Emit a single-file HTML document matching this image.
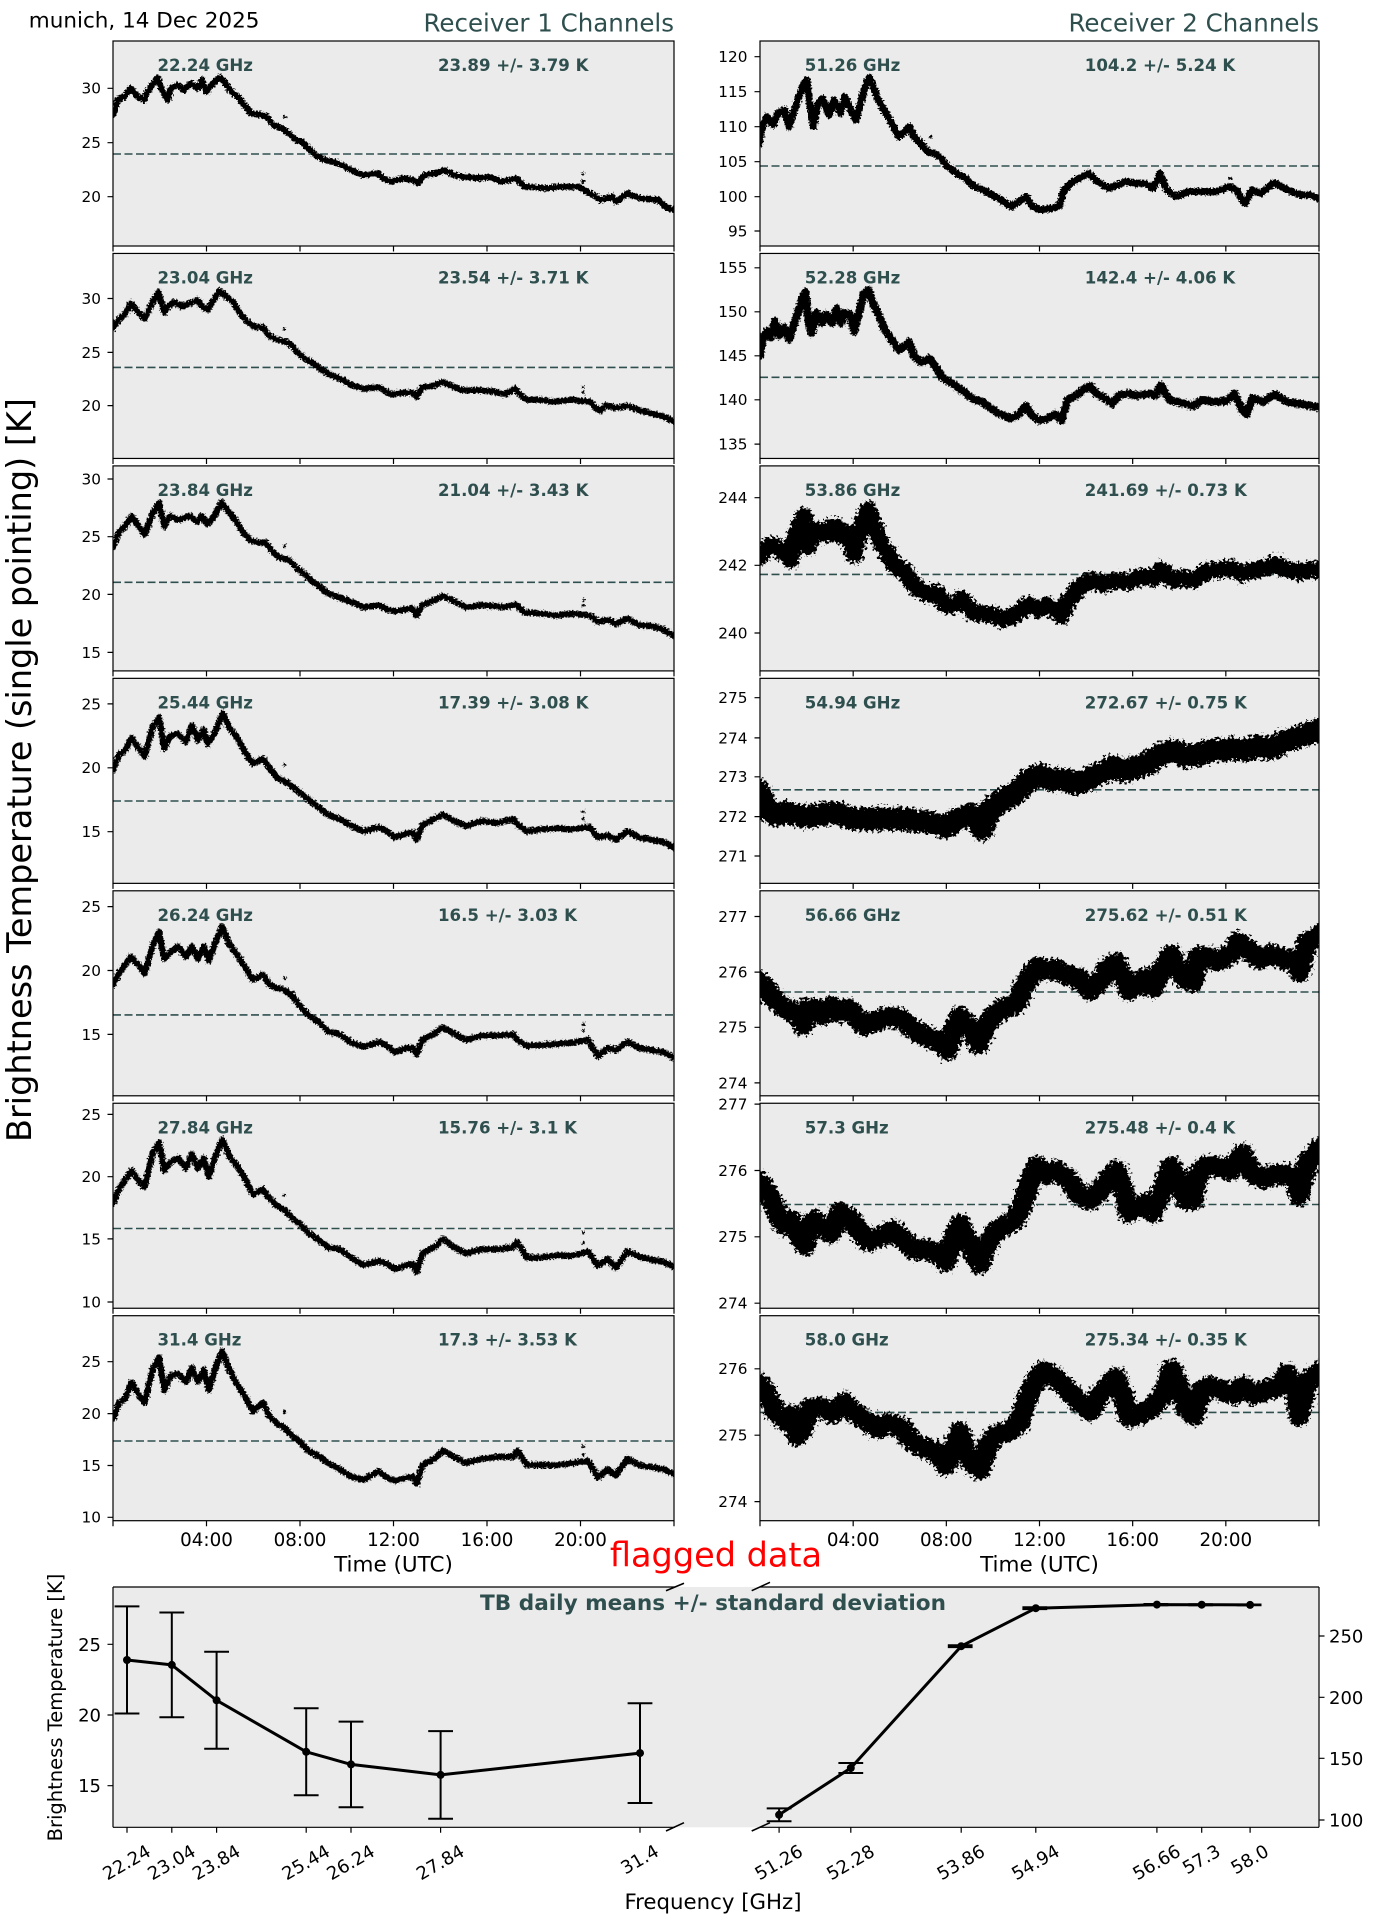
<!DOCTYPE html>
<html><head><meta charset="utf-8"><style>
html,body{margin:0;padding:0;background:#fff;}
svg{display:block;font-family:"DejaVu Sans","Liberation Sans",sans-serif;}
</style></head><body>
<svg width="1384" height="1927" viewBox="0 0 1384 1927" xmlns="http://www.w3.org/2000/svg">
<defs>
<clipPath id="cL"><rect x="113" y="0" width="561" height="1530"/></clipPath>
<clipPath id="cR"><rect x="760" y="0" width="559" height="1530"/></clipPath>
<filter id="nz" x="-2%" y="-5%" width="104%" height="110%"><feTurbulence type="fractalNoise" baseFrequency="0.6" numOctaves="1" seed="4" result="t"/><feDisplacementMap in="SourceGraphic" in2="t" scale="6" xChannelSelector="R" yChannelSelector="G"/></filter>
<filter id="nz2" x="-2%" y="-5%" width="104%" height="110%"><feTurbulence type="fractalNoise" baseFrequency="0.35" numOctaves="2" seed="7" result="t"/><feDisplacementMap in="SourceGraphic" in2="t" scale="13" xChannelSelector="R" yChannelSelector="G"/></filter>
<g id="xtL"><path d="M113,0v5.5M206.5,0v5.5M300,0v5.5M393.5,0v5.5M487,0v5.5M580.5,0v5.5M674,0v5.5" stroke="#000" stroke-width="1.2"/></g>
<g id="xtR"><path d="M760,0v5.5M853.17,0v5.5M946.33,0v5.5M1039.5,0v5.5M1132.67,0v5.5M1225.83,0v5.5M1319,0v5.5" stroke="#000" stroke-width="1.2"/></g>
</defs>

<!-- titles -->
<text x="28.8" y="27.3" font-size="21.5" fill="#000">munich, 14 Dec 2025</text>
<text x="674" y="31.5" font-size="24.5" fill="#2F4F4F" text-anchor="end">Receiver 1 Channels</text>
<text x="1319" y="31.5" font-size="24.5" fill="#2F4F4F" text-anchor="end">Receiver 2 Channels</text>
<text transform="translate(31,770) rotate(-90)" font-size="33.5" text-anchor="middle" fill="#000">Brightness Temperature (single pointing) [K]</text>

<!-- panel backgrounds -->
<g fill="#ebebeb" stroke="none">
<rect x="113" y="41" width="561" height="205"/><rect x="113" y="253.45" width="561" height="205"/><rect x="113" y="465.9" width="561" height="205"/><rect x="113" y="678.35" width="561" height="205"/><rect x="113" y="890.8" width="561" height="205"/><rect x="113" y="1103.25" width="561" height="205"/><rect x="113" y="1315.7" width="561" height="205"/>
<rect x="760" y="41" width="559" height="205"/><rect x="760" y="253.45" width="559" height="205"/><rect x="760" y="465.9" width="559" height="205"/><rect x="760" y="678.35" width="559" height="205"/><rect x="760" y="890.8" width="559" height="205"/><rect x="760" y="1103.25" width="559" height="205"/><rect x="760" y="1315.7" width="559" height="205"/>
</g>

<!-- mean dashed lines -->
<g stroke="#2F4F4F" stroke-width="1.6" stroke-dasharray="8,3.5" fill="none">
<path d="M113,154H674M113,367.4H674M113,582.3H674M113,801H674M113,1014.9H674M113,1228.5H674M113,1441H674"/>
<path d="M760,166H1319M760,377.3H1319M760,574.4H1319M760,789.8H1319M760,992H1319M760,1204.5H1319M760,1412.4H1319"/>
</g>

<!-- LEFT COLUMN CURVES -->
<g clip-path="url(#cL)"><g filter="url(#nz)">
<g transform="translate(-0.536,0) scale(0.44524,0.33333)" fill="none" stroke="#000" stroke-linejoin="round" stroke-linecap="round">
<polyline vector-effect="non-scaling-stroke" stroke-width="6.2" points="252,345 257,340 265,300 280,290 295,265 310,290 325,300 330,280 340,260 355,232 365,270 378,300 385,265 400,255 415,270 430,250 445,265 455,240 465,275 480,250 495,232 505,245 520,275 535,290 550,315 565,340 590,345 600,350 615,375 635,385 650,400 665,420 680,425 690,440 710,465 730,480 760,490 790,510 815,525 850,520 860,535 880,545 905,535 930,540 940,550 955,525 980,520 1000,510 1020,525 1040,530 1080,535 1100,530 1130,545 1160,535 1180,560 1230,565 1260,560 1300,560 1320,575 1340,590 1350,600 1375,590 1385,605 1410,580 1440,595 1480,600 1495,620 1520,633"/>
<g fill="#000" stroke="none"><ellipse cx="640" cy="352" rx="4" ry="5"/><ellipse cx="1310" cy="520" rx="4" ry="5"/><ellipse cx="1310" cy="545" rx="4" ry="5"/></g>
</g>
<g transform="translate(59.78,240) scale(0.39424,0.41494)" fill="none" stroke="#000" stroke-linejoin="round" stroke-linecap="round">
<polyline vector-effect="non-scaling-stroke" stroke-width="6.2" points="130,214 135,212 150,190 165,180 180,152 195,170 215,190 230,160 250,125 265,175 275,160 290,150 310,160 330,152 350,145 360,160 375,168 390,145 405,122 420,135 440,150 460,180 480,200 495,210 515,210 530,230 550,240 570,245 585,250 600,268 620,285 640,295 660,310 680,322 700,330 720,338 740,350 770,358 810,355 840,372 870,368 895,368 905,378 920,355 950,350 970,342 990,350 1020,362 1060,362 1100,365 1130,372 1155,358 1170,375 1185,385 1220,385 1250,390 1300,385 1345,390 1360,405 1370,412 1385,398 1410,405 1440,400 1470,410 1500,418 1530,425 1565,440"/>
<polyline vector-effect="non-scaling-stroke" stroke-width="6.2" points="130,742 135,740 150,705 165,690 182,665 200,690 215,710 235,660 252,632 265,690 280,665 300,675 330,665 350,680 360,665 375,685 392,665 410,632 425,650 445,675 465,705 485,725 510,730 520,728 535,745 555,765 580,770 600,790 620,805 640,822 660,835 680,852 710,862 740,872 770,885 810,880 830,890 850,895 880,890 895,888 905,905 920,880 950,868 972,858 1000,870 1030,885 1070,880 1100,882 1130,885 1155,878 1180,898 1220,900 1260,905 1300,900 1345,905 1365,920 1390,915 1410,925 1440,912 1470,928 1500,930 1530,938 1565,958"/>
<polyline vector-effect="non-scaling-stroke" stroke-width="6.2" points="130,1280 135,1278 150,1240 165,1230 182,1200 200,1225 215,1245 235,1175 252,1150 265,1225 280,1195 300,1190 320,1210 335,1170 350,1205 365,1180 375,1215 392,1190 413,1140 430,1175 450,1200 470,1235 490,1262 515,1250 530,1270 550,1295 580,1310 600,1325 620,1340 640,1355 660,1370 680,1385 710,1395 740,1412 770,1425 810,1415 830,1425 850,1440 880,1430 895,1428 905,1445 920,1410 950,1395 972,1385 1000,1400 1030,1412 1070,1400 1110,1405 1150,1395 1160,1408 1185,1425 1220,1420 1260,1418 1300,1420 1345,1415 1365,1440 1390,1435 1410,1445 1440,1425 1470,1440 1500,1445 1530,1450 1565,1468"/>
<g fill="#000" stroke="none"><ellipse cx="570" cy="215" rx="4" ry="4"/><ellipse cx="1328" cy="355" rx="4" ry="4"/><ellipse cx="1328" cy="367" rx="4" ry="4"/><ellipse cx="570" cy="737" rx="4" ry="4"/><ellipse cx="1328" cy="867" rx="4" ry="4"/><ellipse cx="1328" cy="880" rx="4" ry="4"/><ellipse cx="570" cy="1265" rx="4" ry="4"/><ellipse cx="1328" cy="1378" rx="4" ry="4"/><ellipse cx="1328" cy="1395" rx="4" ry="4"/></g>
</g>
<g transform="translate(59.78,880) scale(0.39424,0.41494)" fill="none" stroke="#000" stroke-linejoin="round" stroke-linecap="round">
<polyline vector-effect="non-scaling-stroke" stroke-width="6.2" points="130,255 135,252 150,225 165,205 180,185 200,205 215,225 235,160 252,125 265,190 280,175 300,160 320,185 335,160 350,190 365,160 378,195 395,150 412,112 430,155 450,180 470,210 490,240 515,228 530,250 550,260 570,265 590,280 610,305 630,325 660,345 680,365 710,372 740,392 770,402 810,390 830,400 850,415 880,405 895,405 905,420 920,385 950,370 972,355 1000,370 1030,385 1070,375 1110,375 1150,372 1160,385 1185,400 1220,398 1260,395 1300,392 1340,385 1365,425 1390,405 1410,410 1440,390 1470,405 1500,410 1530,415 1565,432"/>
<polyline vector-effect="non-scaling-stroke" stroke-width="6.2" points="130,780 135,778 150,745 165,725 182,700 200,725 215,740 235,660 252,632 265,700 280,680 300,670 320,695 335,660 350,695 365,670 378,715 395,665 412,625 430,665 450,690 470,720 490,758 515,745 530,765 550,785 570,795 590,815 610,830 630,850 660,870 680,885 710,890 740,910 770,928 810,918 830,925 850,938 880,928 895,925 905,945 920,900 950,885 972,865 1000,885 1030,900 1070,890 1110,890 1150,885 1160,872 1185,910 1220,910 1260,905 1300,905 1340,895 1365,930 1390,912 1410,935 1440,895 1470,908 1500,915 1530,920 1565,936"/>
<polyline vector-effect="non-scaling-stroke" stroke-width="6.2" points="130,1300 135,1298 150,1260 165,1250 182,1210 200,1240 215,1260 235,1180 252,1150 265,1230 280,1195 300,1190 320,1210 335,1175 350,1210 365,1180 378,1230 395,1175 412,1135 430,1180 450,1215 470,1245 490,1280 515,1260 530,1290 550,1310 570,1320 590,1340 610,1355 630,1375 660,1390 680,1405 710,1420 740,1438 770,1445 810,1425 830,1440 850,1448 880,1440 895,1438 905,1455 920,1410 950,1395 972,1375 1000,1390 1030,1405 1070,1395 1110,1390 1150,1390 1160,1375 1185,1410 1220,1410 1260,1410 1300,1405 1340,1400 1365,1440 1390,1420 1410,1435 1440,1395 1470,1410 1500,1415 1530,1420 1565,1434"/>
<g fill="#000" stroke="none"><ellipse cx="570" cy="237" rx="4" ry="4"/><ellipse cx="592" cy="270" rx="4" ry="4"/><ellipse cx="1328" cy="348" rx="4" ry="4"/><ellipse cx="1328" cy="362" rx="4" ry="4"/><ellipse cx="570" cy="760" rx="4" ry="4"/><ellipse cx="1328" cy="850" rx="4" ry="4"/><ellipse cx="1328" cy="875" rx="4" ry="4"/><ellipse cx="570" cy="1282" rx="4" ry="4"/><ellipse cx="1328" cy="1365" rx="4" ry="4"/><ellipse cx="1328" cy="1385" rx="4" ry="4"/></g>
</g>
</g></g>

<!-- RIGHT COLUMN CURVES -->
<g clip-path="url(#cR)"><g filter="url(#nz)">
<g transform="translate(679.36,0) scale(0.4472,0.33333)" fill="none" stroke="#000" stroke-linejoin="round" stroke-linecap="round">
<polyline vector-effect="non-scaling-stroke" stroke-width="7.2" points="172,440 178,435 185,385 195,350 210,375 220,340 235,330 245,380 255,340 265,300 275,260 285,240 290,300 300,380 310,310 320,295 335,345 345,300 360,340 370,290 385,335 395,360 405,310 415,260 425,232 435,265 445,300 460,335 475,370 490,410 505,395 515,380 525,410 540,430 555,455 570,460 585,475 600,500 620,520 640,535 660,560 680,570 700,585 720,600 740,620 760,605 775,590 790,620 810,630 830,625 850,618 860,570 880,545 900,530 915,520 935,545 960,565 980,555 1000,545 1020,550 1040,550 1060,565 1075,520 1090,570 1110,590 1140,575 1170,575 1200,575 1230,560 1245,570 1265,610 1280,570 1300,580 1330,548 1360,570 1390,585 1410,585 1440,600"/>
<g fill="#000" stroke="none"><ellipse cx="562" cy="410" rx="4" ry="5"/><ellipse cx="1232" cy="535" rx="4" ry="5"/></g>
</g>
<g transform="translate(689.54,240) scale(0.40654,0.41494)" fill="none" stroke="#000" stroke-linejoin="round" stroke-linecap="round">
<polyline vector-effect="non-scaling-stroke" stroke-width="8" points="165,285 172,280 180,240 190,220 200,235 210,195 220,230 232,210 245,240 258,200 268,170 278,140 285,125 292,195 300,225 312,175 325,200 335,180 350,200 362,165 372,200 382,175 395,180 405,220 415,180 428,130 440,120 450,150 465,180 480,215 500,245 515,265 530,255 540,245 552,280 570,295 590,285 605,305 620,330 635,340 645,345 660,355 680,370 700,385 720,390 740,405 760,418 790,430 810,420 828,400 840,420 860,435 880,430 900,420 915,435 930,385 950,375 970,360 985,352 1000,370 1020,380 1040,395 1055,375 1080,370 1100,375 1130,370 1145,375 1160,350 1180,385 1220,395 1240,400 1260,385 1290,390 1320,388 1340,370 1360,410 1370,420 1385,380 1410,390 1440,372 1470,390 1500,395 1530,400 1560,405"/>
</g>
</g></g>
<g clip-path="url(#cR)"><g filter="url(#nz2)">
<g transform="translate(689.54,240) scale(0.40654,0.41494)" fill="none" stroke="#000" stroke-linejoin="round" stroke-linecap="round">
<polyline vector-effect="non-scaling-stroke" stroke-width="17" points="165,768 172,765 190,740 205,735 220,745 240,760 250,770 258,720 270,690 282,665 292,740 300,720 312,700 325,700 340,710 350,690 362,690 375,715 390,705 405,760 412,730 425,680 440,650 455,690 470,730 490,760 510,790 530,800 550,830 570,845 590,855 610,850 630,880 650,880 670,865 700,900 720,900 750,905 770,915 800,905 830,880 860,890 880,880 900,895 915,905 925,880 940,860 960,835 990,820 1020,830 1050,820 1080,825 1110,810 1140,815 1160,795 1190,820 1210,815 1240,820 1270,800 1300,795 1330,790 1360,805 1390,795 1420,790 1440,780 1470,795 1500,800 1530,795 1560,795"/>
<polyline vector-effect="non-scaling-stroke" stroke-width="23" points="165,1325 172,1330 190,1370 210,1385 240,1380 280,1390 320,1385 360,1380 400,1395 440,1395 480,1395 520,1395 560,1400 600,1405 630,1415 660,1395 690,1385 710,1400 720,1420 740,1370 770,1350 800,1335 830,1305 860,1290 890,1300 920,1300 950,1310 980,1300 1010,1285 1040,1270 1070,1280 1100,1270 1130,1260 1160,1240 1190,1230 1220,1245 1250,1240 1280,1230 1310,1230 1340,1225 1370,1230 1400,1220 1430,1225 1460,1210 1490,1200 1520,1190 1560,1176"/>
</g>
<g transform="translate(689.54,880) scale(0.40654,0.41494)" fill="none" stroke="#000" stroke-linejoin="round" stroke-linecap="round">
<polyline vector-effect="non-scaling-stroke" stroke-width="21" points="165,240 172,245 190,265 210,290 230,305 260,320 280,350 290,310 310,310 330,325 350,305 370,320 390,310 410,330 430,350 460,340 490,330 520,335 550,360 580,375 600,385 620,390 635,410 650,360 665,330 680,345 700,370 710,395 725,360 745,330 770,310 790,305 810,290 820,260 840,230 855,210 870,215 900,215 930,230 960,240 985,265 1010,245 1030,210 1050,200 1065,230 1080,265 1100,255 1120,235 1140,260 1165,210 1185,180 1200,215 1220,240 1240,245 1250,185 1270,185 1300,195 1330,180 1350,150 1370,165 1400,190 1430,180 1460,190 1490,195 1500,220 1520,150 1560,128"/>
<polyline vector-effect="non-scaling-stroke" stroke-width="21" points="165,725 172,730 190,750 210,790 230,830 250,820 270,860 285,880 290,840 310,820 330,840 350,850 370,800 385,810 400,820 420,850 440,870 470,860 500,845 530,870 550,890 580,890 610,900 630,920 650,860 665,830 680,860 700,900 715,925 730,880 750,850 780,830 800,820 820,780 840,720 855,690 870,710 900,700 930,720 960,760 985,770 1010,750 1030,720 1050,700 1065,740 1080,800 1100,790 1120,780 1140,800 1165,740 1185,690 1200,720 1220,770 1240,770 1250,710 1270,690 1300,690 1330,700 1360,660 1380,700 1410,720 1440,710 1470,710 1490,725 1500,760 1520,680 1560,638"/>
<polyline vector-effect="non-scaling-stroke" stroke-width="21" points="165,1210 172,1215 190,1240 210,1280 230,1300 250,1290 265,1340 280,1320 295,1275 320,1270 350,1285 380,1260 400,1280 430,1300 460,1320 490,1310 520,1320 550,1355 580,1370 610,1380 630,1410 650,1370 665,1330 680,1380 700,1410 715,1420 730,1370 750,1340 780,1330 810,1310 830,1250 855,1200 870,1185 900,1200 930,1230 960,1260 985,1280 1010,1240 1030,1220 1050,1200 1065,1240 1080,1295 1100,1290 1120,1280 1140,1270 1165,1240 1185,1180 1200,1210 1220,1270 1240,1290 1260,1230 1280,1220 1310,1230 1340,1240 1360,1220 1390,1240 1420,1230 1450,1220 1470,1190 1490,1240 1500,1290 1520,1210 1560,1178"/>
</g>
</g></g>

<!-- panel frames -->
<g fill="none" stroke="#000" stroke-width="1.2">
<rect x="113" y="41" width="561" height="205"/><rect x="113" y="253.45" width="561" height="205"/><rect x="113" y="465.9" width="561" height="205"/><rect x="113" y="678.35" width="561" height="205"/><rect x="113" y="890.8" width="561" height="205"/><rect x="113" y="1103.25" width="561" height="205"/><rect x="113" y="1315.7" width="561" height="205"/>
<rect x="760" y="41" width="559" height="205"/><rect x="760" y="253.45" width="559" height="205"/><rect x="760" y="465.9" width="559" height="205"/><rect x="760" y="678.35" width="559" height="205"/><rect x="760" y="890.8" width="559" height="205"/><rect x="760" y="1103.25" width="559" height="205"/><rect x="760" y="1315.7" width="559" height="205"/>
</g>

<!-- x ticks on time panels -->
<use href="#xtL" y="246"/><use href="#xtL" y="458.45"/><use href="#xtL" y="670.9"/><use href="#xtL" y="883.35"/><use href="#xtL" y="1095.8"/><use href="#xtL" y="1308.25"/><use href="#xtL" y="1520.7"/>
<use href="#xtR" y="246"/><use href="#xtR" y="458.45"/><use href="#xtR" y="670.9"/><use href="#xtR" y="883.35"/><use href="#xtR" y="1095.8"/><use href="#xtR" y="1308.25"/><use href="#xtR" y="1520.7"/>

<!-- y tick marks -->
<path stroke="#000" stroke-width="1.2" d="M107.5,88.3H113M107.5,142.7H113M107.5,196.7H113M107.5,298.5H113M107.5,352.4H113M107.5,405.6H113M107.5,479H113M107.5,536.7H113M107.5,594.4H113M107.5,652.4H113M107.5,703.9H113M107.5,767.8H113M107.5,831.7H113M107.5,906.6H113M107.5,970.5H113M107.5,1034.4H113M107.5,1114.4H113M107.5,1176.7H113M107.5,1238.9H113M107.5,1302H113M107.5,1361.7H113M107.5,1413.6H113M107.5,1465.5H113M107.5,1517.3H113
M754.5,56.7H760M754.5,91.7H760M754.5,126.7H760M754.5,161.7H760M754.5,196.7H760M754.5,231H760M754.5,267.8H760M754.5,311.8H760M754.5,355.8H760M754.5,399.8H760M754.5,444.1H760M754.5,497.7H760M754.5,565.3H760M754.5,633H760M754.5,697.7H760M754.5,737.9H760M754.5,776.8H760M754.5,816.6H760M754.5,856H760M754.5,916.5H760M754.5,972.1H760M754.5,1027.3H760M754.5,1082.9H760M754.5,1104.1H760M754.5,1170.5H760M754.5,1236.8H760M754.5,1303.2H760M754.5,1368.8H760M754.5,1435.2H760M754.5,1501.6H760"/>

<!-- y tick labels -->
<g font-size="15.3" fill="#000" text-anchor="end">
<text x="101" y="93.7">30</text><text x="101" y="148.1">25</text><text x="101" y="202.1">20</text>
<text x="101" y="303.9">30</text><text x="101" y="357.8">25</text><text x="101" y="411">20</text>
<text x="101" y="484.4">30</text><text x="101" y="542.1">25</text><text x="101" y="599.8">20</text><text x="101" y="657.8">15</text>
<text x="101" y="709.3">25</text><text x="101" y="773.2">20</text><text x="101" y="837.1">15</text>
<text x="101" y="912">25</text><text x="101" y="975.9">20</text><text x="101" y="1039.8">15</text>
<text x="101" y="1119.8">25</text><text x="101" y="1182.1">20</text><text x="101" y="1244.3">15</text><text x="101" y="1307.4">10</text>
<text x="101" y="1367.1">25</text><text x="101" y="1419">20</text><text x="101" y="1470.9">15</text><text x="101" y="1522.7">10</text>
<text x="747.5" y="62.1">120</text><text x="747.5" y="97.1">115</text><text x="747.5" y="132.1">110</text><text x="747.5" y="167.1">105</text><text x="747.5" y="202.1">100</text><text x="747.5" y="236.4">95</text>
<text x="747.5" y="273.2">155</text><text x="747.5" y="317.2">150</text><text x="747.5" y="361.2">145</text><text x="747.5" y="405.2">140</text><text x="747.5" y="449.5">135</text>
<text x="747.5" y="503.1">244</text><text x="747.5" y="570.7">242</text><text x="747.5" y="638.4">240</text>
<text x="747.5" y="703.1">275</text><text x="747.5" y="743.3">274</text><text x="747.5" y="782.2">273</text><text x="747.5" y="822">272</text><text x="747.5" y="861.4">271</text>
<text x="747.5" y="921.9">277</text><text x="747.5" y="977.5">276</text><text x="747.5" y="1032.7">275</text><text x="747.5" y="1088.3">274</text>
<text x="747.5" y="1109.5">277</text><text x="747.5" y="1175.9">276</text><text x="747.5" y="1242.2">275</text><text x="747.5" y="1308.6">274</text>
<text x="747.5" y="1374.2">276</text><text x="747.5" y="1440.6">275</text><text x="747.5" y="1507">274</text>
</g>

<!-- panel annotations -->
<g font-size="16.6" font-weight="bold" fill="#2F4F4F">
<text x="157.5" y="71">22.24 GHz</text><text x="438" y="71">23.89 +/- 3.79 K</text>
<text x="157.5" y="283.45">23.04 GHz</text><text x="438" y="283.45">23.54 +/- 3.71 K</text>
<text x="157.5" y="495.9">23.84 GHz</text><text x="438" y="495.9">21.04 +/- 3.43 K</text>
<text x="157.5" y="708.35">25.44 GHz</text><text x="438" y="708.35">17.39 +/- 3.08 K</text>
<text x="157.5" y="920.8">26.24 GHz</text><text x="438" y="920.8">16.5 +/- 3.03 K</text>
<text x="157.5" y="1133.25">27.84 GHz</text><text x="438" y="1133.25">15.76 +/- 3.1 K</text>
<text x="157.5" y="1345.7">31.4 GHz</text><text x="438" y="1345.7">17.3 +/- 3.53 K</text>
<text x="804.8" y="71">51.26 GHz</text><text x="1084.8" y="71">104.2 +/- 5.24 K</text>
<text x="804.8" y="283.45">52.28 GHz</text><text x="1084.8" y="283.45">142.4 +/- 4.06 K</text>
<text x="804.8" y="495.9">53.86 GHz</text><text x="1084.8" y="495.9">241.69 +/- 0.73 K</text>
<text x="804.8" y="708.35">54.94 GHz</text><text x="1084.8" y="708.35">272.67 +/- 0.75 K</text>
<text x="804.8" y="920.8">56.66 GHz</text><text x="1084.8" y="920.8">275.62 +/- 0.51 K</text>
<text x="804.8" y="1133.25">57.3 GHz</text><text x="1084.8" y="1133.25">275.48 +/- 0.4 K</text>
<text x="804.8" y="1345.7">58.0 GHz</text><text x="1084.8" y="1345.7">275.34 +/- 0.35 K</text>
</g>

<!-- time axis tick labels -->
<g font-size="18.3" fill="#000" text-anchor="middle">
<text x="206.5" y="1546">04:00</text><text x="300" y="1546">08:00</text><text x="393.5" y="1546">12:00</text><text x="487" y="1546">16:00</text><text x="580.5" y="1546">20:00</text>
<text x="853.17" y="1546">04:00</text><text x="946.33" y="1546">08:00</text><text x="1039.5" y="1546">12:00</text><text x="1132.67" y="1546">16:00</text><text x="1225.83" y="1546">20:00</text>
</g>
<g font-size="21.5" fill="#000" text-anchor="middle">
<text x="393.5" y="1571.5">Time (UTC)</text><text x="1039.5" y="1571.5">Time (UTC)</text>
</g>
<text x="716" y="1566.7" font-size="33.5" fill="#ff0000" text-anchor="middle">flagged data</text>

<!-- BOTTOM PANEL -->
<rect x="113" y="1587" width="1206" height="240.3" fill="#ebebeb"/>
<path fill="none" stroke="#000" stroke-width="1.2" d="M113,1587V1827.3M1319,1587V1827.3M113,1587H675M760,1587H1319M113,1827.3H675M760,1827.3H1319"/>
<path fill="none" stroke="#000" stroke-width="1.6" d="M666,1590.7L684,1583.3M751.7,1590.7L770,1582.3M666,1831L684,1822.7M751.7,1831L770,1822.7"/>
<text x="713" y="1610" font-size="21.6" font-weight="bold" fill="#2F4F4F" text-anchor="middle">TB daily means +/- standard deviation</text>

<!-- bottom ticks -->
<path stroke="#000" stroke-width="1.2" d="M107.5,1644.3H113M107.5,1715H113M107.5,1785.7H113M1319,1636H1324.5M1319,1697.3H1324.5M1319,1758.3H1324.5M1319,1820H1324.5
M127,1827.3v5.5M171.8,1827.3v5.5M216.6,1827.3v5.5M306.2,1827.3v5.5M351,1827.3v5.5M440.6,1827.3v5.5M640,1827.3v5.5
M779.1,1827.3v5.5M850.8,1827.3v5.5M961.2,1827.3v5.5M1035.8,1827.3v5.5M1156.9,1827.3v5.5M1201.7,1827.3v5.5M1250.1,1827.3v5.5"/>
<g font-size="18" fill="#000">
<text x="101" y="1650.8" text-anchor="end">25</text><text x="101" y="1721.5" text-anchor="end">20</text><text x="101" y="1792.2" text-anchor="end">15</text>
<text x="1329" y="1642.5">250</text><text x="1329" y="1703.8">200</text><text x="1329" y="1764.8">150</text><text x="1329" y="1826.5">100</text>
</g>
<g font-size="18" fill="#000" text-anchor="middle" dominant-baseline="central">
<text transform="translate(127,1863) rotate(-30)">22.24</text>
<text transform="translate(171.8,1863) rotate(-30)">23.04</text>
<text transform="translate(216.6,1863) rotate(-30)">23.84</text>
<text transform="translate(306.2,1863) rotate(-30)">25.44</text>
<text transform="translate(351,1863) rotate(-30)">26.24</text>
<text transform="translate(440.6,1863) rotate(-30)">27.84</text>
<text transform="translate(640,1860) rotate(-30)">31.4</text>
<text transform="translate(779.1,1863) rotate(-30)">51.26</text>
<text transform="translate(850.8,1863) rotate(-30)">52.28</text>
<text transform="translate(961.2,1863) rotate(-30)">53.86</text>
<text transform="translate(1035.8,1863) rotate(-30)">54.94</text>
<text transform="translate(1156.9,1863) rotate(-30)">56.66</text>
<text transform="translate(1201.7,1860) rotate(-30)">57.3</text>
<text transform="translate(1250.1,1860) rotate(-30)">58.0</text>
</g>
<text x="713" y="1909" font-size="21.3" fill="#000" text-anchor="middle">Frequency [GHz]</text>
<text transform="translate(62,1707.5) rotate(-90)" font-size="19.5" fill="#000" text-anchor="middle">Brightness Temperature [K]</text>

<!-- bottom series: error bars -->
<g stroke="#000" stroke-width="2" fill="none">
<path d="M127,1606.4V1713.5M114.6,1606.4H139.4M114.6,1713.5H139.4"/>
<path d="M171.8,1612.5V1717.3M159.4,1612.5H184.2M159.4,1717.3H184.2"/>
<path d="M216.6,1651.8V1748.7M204.2,1651.8H229M204.2,1748.7H229"/>
<path d="M306.2,1708.3V1795.3M293.8,1708.3H318.6M293.8,1795.3H318.6"/>
<path d="M351,1721.6V1807.2M338.6,1721.6H363.4M338.6,1807.2H363.4"/>
<path d="M440.6,1731.1V1818.7M428.2,1731.1H453M428.2,1818.7H453"/>
<path d="M640,1703.2V1803M627.6,1703.2H652.4M627.6,1803H652.4"/>
<path d="M779.1,1808.4V1821.3M766.7,1808.4H791.5M766.7,1821.3H791.5"/>
<path d="M850.8,1763V1773M838.4,1763H863.2M838.4,1773H863.2"/>
<path d="M947.8,1645.3H972.6M947.8,1647.1H972.6"/>
<path d="M1022.4,1607.3H1047.2M1022.4,1609.1H1047.2"/>
<path d="M1143.5,1604H1168.3M1143.5,1605.2H1168.3"/>
<path d="M1188.3,1604.2H1213.1M1188.3,1605.2H1213.1"/>
<path d="M1236.7,1604.5H1261.5M1236.7,1605.3H1261.5"/>
</g>
<g stroke="#000" stroke-width="3" fill="none" stroke-linejoin="round">
<polyline points="127,1660 171.8,1664.9 216.6,1700.3 306.2,1751.8 351,1764.4 440.6,1774.9 640,1753.1"/>
<polyline points="779.1,1814.8 850.8,1768 961.2,1646.2 1035.8,1608.2 1156.9,1604.6 1201.7,1604.7 1250.1,1604.9"/>
</g>
<g fill="#000">
<circle cx="127" cy="1660" r="4"/><circle cx="171.8" cy="1664.9" r="4"/><circle cx="216.6" cy="1700.3" r="4"/><circle cx="306.2" cy="1751.8" r="4"/><circle cx="351" cy="1764.4" r="4"/><circle cx="440.6" cy="1774.9" r="4"/><circle cx="640" cy="1753.1" r="4"/>
<circle cx="779.1" cy="1814.8" r="4"/><circle cx="850.8" cy="1768" r="4"/><circle cx="961.2" cy="1646.2" r="4"/><circle cx="1035.8" cy="1608.2" r="4"/><circle cx="1156.9" cy="1604.6" r="4"/><circle cx="1201.7" cy="1604.7" r="4"/><circle cx="1250.1" cy="1604.9" r="4"/>
</g>
</svg>
</body></html>
